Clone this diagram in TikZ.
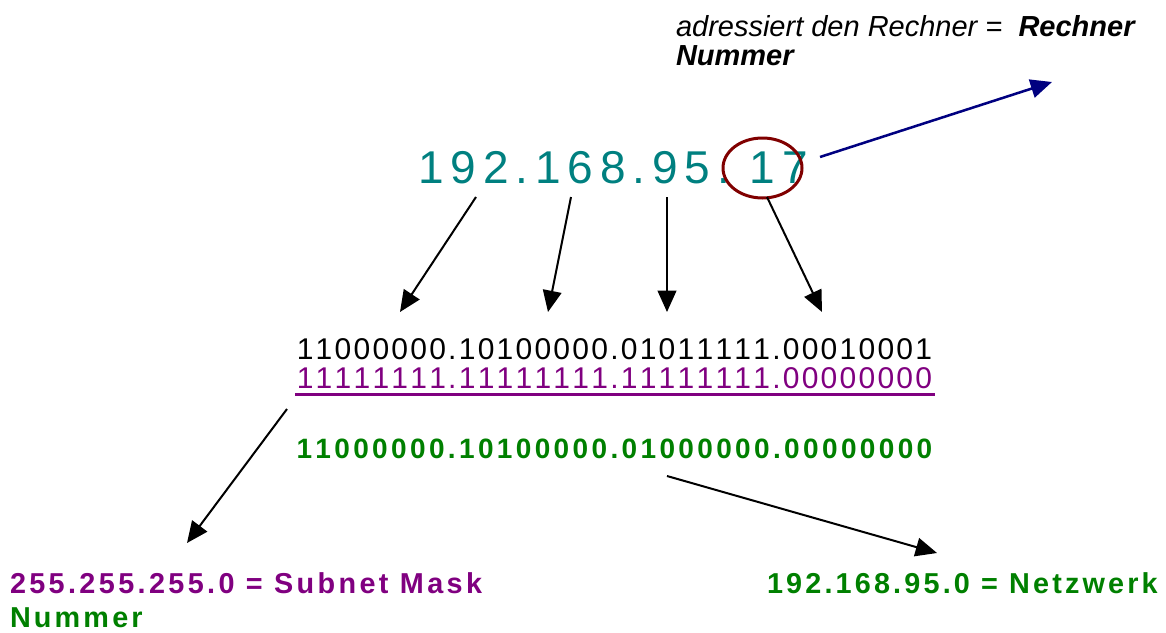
\documentclass[tikz,border=0pt]{standalone}
\usepackage{fontspec}
\defaultfontfeatures{Kerning=Off}
\setmainfont{Liberation Sans}
\newfontfamily\spaced[LetterSpace=12]{Liberation Sans}
\newfontfamily\spacedR[LetterSpace=7.5]{Liberation Sans}
\newfontfamily\spacedL[LetterSpace=11]{Liberation Sans}
\newfontfamily\spacedM[LetterSpace=11.7]{Liberation Sans}
\newfontfamily\spacedT[LetterSpace=15]{Liberation Sans}
\usetikzlibrary{arrows.meta,shapes.geometric}
\definecolor{ipteal}{RGB}{0,128,128}
\definecolor{ipred}{RGB}{128,0,0}
\definecolor{ipnavy}{RGB}{0,0,128}
\definecolor{ippurple}{RGB}{128,0,128}
\definecolor{ipgreen}{RGB}{0,128,0}
\begin{document}
\begin{tikzpicture}[x=0.75pt,y=-0.75pt,
  txt/.style={inner sep=0pt, outer sep=0pt},
  big/.style={txt, font=\spacedT\fontsize{34.5}{40}\selectfont, text=ipteal},
  bin/.style={txt, font=\spacedR\fontsize{22.5}{26}\selectfont},
  binb/.style={txt, font=\spaced\fontsize{21}{25}\selectfont\bfseries},
  lbl/.style={txt, font=\spacedL\fontsize{21.6}{25}\selectfont\bfseries},
  note/.style={txt, font=\fontsize{21.75}{26}\selectfont\itshape},
  arr/.style={line width=1.5pt, -{Triangle[length=16pt,width=14pt]}},
  navyarr/.style={line width=1.9pt, draw=ipnavy, -{Triangle[length=16pt,width=14pt,fill=ipnavy]}}]
\useasboundingbox (0,0) rectangle (1166,632);

% top note
\node[note, anchor=base west] (note1) at (676,36) {adressiert den Rechner =\ \ \textbf{Rechner}};
\node[note, anchor=base west, font=\fontsize{21.75}{26}\selectfont\itshape\bfseries] (note2) at (676,65) {Nummer};

% IP address
\node[big, anchor=base] (ip) at (613,183) {192.168.95.\ 17};
\node[draw=ipred, line width=2.25pt, ellipse, minimum width=59.25pt, minimum height=45pt, inner sep=0pt] (circ) at (762.5,168) {};

% binary lines
\node[bin, anchor=base] (b1) at (614.5,359) {11000000.10100000.01011111.00010001};
\node[bin, anchor=base, text=ippurple] (b2) at (614.5,388) {11111111.11111111.11111111.00000000};
\draw[ippurple, line width=2.25pt] (295,394) coordinate (ul1) -- (935,394) coordinate (ul2);
\node[binb, anchor=base, text=ipgreen] (b3) at (614.5,458) {11000000.10100000.01000000.00000000};

% results
\node[lbl, anchor=base west, text=ippurple, font=\spacedM\fontsize{21.6}{25}\selectfont\bfseries] (mask) at (10,593) {255.255.255.0 = Subnet Mask};
\node[lbl, anchor=base west, text=ipgreen] (nummer) at (10,627) {Nummer};
\node[lbl, anchor=base west, text=ipgreen] (net) at (767,593) {192.168.95.0 = Netzwerk};

% arrow coordinates
\coordinate (s1) at (476,197); \coordinate (e1) at (400,312);
\coordinate (s2) at (571,197); \coordinate (e2) at (548,312);
\coordinate (s3) at (667,197); \coordinate (e3) at (667,312);
\coordinate (s4) at (767,197); \coordinate (e4) at (822,312);
\coordinate (s5) at (287,409); \coordinate (e5) at (187,543);
\coordinate (s6) at (667,476); \coordinate (e6) at (937,553);
\coordinate (s7) at (820,157); \coordinate (e7) at (1052,82);

\draw[arr] (s1) -- (e1);
\draw[arr] (s2) -- (e2);
\draw[arr] (s3) -- (e3);
\draw[arr] (s4) -- (e4);
\draw[arr] (s5) -- (e5);
\draw[arr] (s6) -- (e6);
\draw[navyarr] (s7) -- (e7);
\end{tikzpicture}
\end{document}
